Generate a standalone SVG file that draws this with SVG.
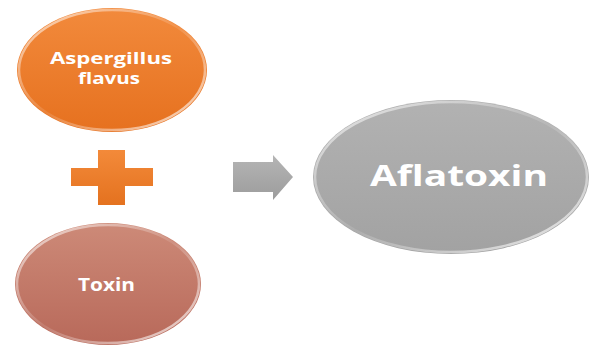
<svg xmlns="http://www.w3.org/2000/svg" width="589" height="347" viewBox="0 0 589 347">
<defs>
<linearGradient id="gOr" x1="0" y1="0" x2="0" y2="1"><stop offset="0" stop-color="#F28A3C"/><stop offset="1" stop-color="#E6711F"/></linearGradient>
<linearGradient id="gTx" x1="0" y1="0" x2="0" y2="1"><stop offset="0" stop-color="#CD8A78"/><stop offset="1" stop-color="#B8695A"/></linearGradient>
<linearGradient id="gGy" x1="0" y1="0" x2="0" y2="1"><stop offset="0" stop-color="#B2B2B2"/><stop offset="1" stop-color="#A2A2A2"/></linearGradient>
<linearGradient id="gPl" x1="0" y1="0" x2="0" y2="1"><stop offset="0" stop-color="#F38A3A"/><stop offset="1" stop-color="#E4721F"/></linearGradient>
<linearGradient id="gAr" x1="0" y1="0" x2="0" y2="1"><stop offset="0" stop-color="#B5B5B5"/><stop offset="1" stop-color="#9C9C9C"/></linearGradient>
<linearGradient id="rim" x1="0" y1="0" x2="1" y2="1"><stop offset="0" stop-color="#fff" stop-opacity="0.7"/><stop offset="0.5" stop-color="#fff" stop-opacity="0.1"/><stop offset="1" stop-color="#fff" stop-opacity="0.8"/></linearGradient>
<style>
.lbl{font-family:"Open Sans","Liberation Sans",sans-serif;font-weight:bold;fill:#FFFFFF;text-anchor:middle}
.rim{fill:none;stroke:url(#rim);stroke-width:2.5}
</style>
</defs>
<g id="node-aspergillus">
<ellipse cx="112" cy="70" rx="95" ry="62" fill="url(#gOr)"/>
<ellipse class="rim" cx="112" cy="70" rx="93" ry="60"/>
<text class="lbl" x="111" y="64" font-size="16" textLength="122" lengthAdjust="spacingAndGlyphs">Aspergillus</text>
<text class="lbl" x="109" y="84" font-size="16" textLength="62" lengthAdjust="spacingAndGlyphs">flavus</text>
</g>
<g id="node-plus">
<path d="M98,150 H125 V168 H153 V186 H125 V205 H98 V186 H71 V168 H98 Z" fill="url(#gPl)"/>
</g>
<g id="node-toxin">
<ellipse cx="108" cy="284" rx="93" ry="61" fill="url(#gTx)"/>
<ellipse class="rim" cx="108" cy="284" rx="91" ry="59"/>
<text class="lbl" x="106.5" y="291" font-size="17" textLength="57" lengthAdjust="spacingAndGlyphs">Toxin</text>
</g>
<g id="connectors">
<path d="M233,162 H273 V155 L293,177 L273,200 V192 H233 Z" fill="url(#gAr)"/>
</g>
<g id="node-aflatoxin">
<ellipse cx="451" cy="177" rx="138" ry="77" fill="url(#gGy)"/>
<ellipse class="rim" cx="451" cy="177" rx="136" ry="75"/>
<text class="lbl" x="459" y="186" font-size="28" textLength="178" lengthAdjust="spacingAndGlyphs">Aflatoxin</text>
</g>
</svg>
